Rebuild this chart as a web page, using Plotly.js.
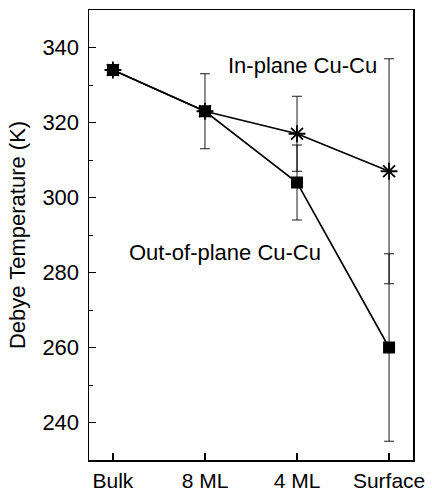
<!DOCTYPE html>
<html>
<head>
<meta charset="utf-8">
<script src="https://cdn.plot.ly/plotly-3.0.1.min.js"></script>
<style>html,body{margin:0;padding:0;background:#fff;}#chart{width:432px;height:497px;}</style>
</head>
<body>
<div id="chart"></div>
<script>
const categories = ['Bulk', '8 ML', '4 ML', 'Surface'];
const outOfPlane = [334, 323, 304, 260];
const outOfPlaneErr = [0, 10, 10, 25];
const inPlane = [334, 323, 317, 307];
const inPlaneErr = [0, 0, 10, 30];
const yTicks = [240, 260, 280, 300, 320, 340];

const xIdx = categories.map((c, i) => i);
const font = 'Liberation Sans, Arial, Helvetica, sans-serif';
const fs = 22;

const traces = [
  {
    x: xIdx, y: outOfPlane, type: 'scatter', mode: 'lines+markers',
    line: {color: '#000', width: 1.6},
    marker: {symbol: 'square', size: 12, color: '#000'},
    error_y: {type: 'data', array: outOfPlaneErr, visible: true, color: '#000', thickness: 0.9, width: 5},
    name: 'Out-of-plane Cu-Cu'
  },
  {
    x: xIdx, y: inPlane, type: 'scatter', mode: 'lines+markers',
    line: {color: '#000', width: 1.6},
    marker: {symbol: 'asterisk-open', size: 14, color: '#000', line: {color: '#000', width: 1.8}},
    error_y: {type: 'data', array: inPlaneErr, visible: true, color: '#000', thickness: 0.9, width: 5},
    name: 'In-plane Cu-Cu'
  }
];

const layout = {
  width: 432, height: 497,
  margin: {l: 89, r: 19, t: 10, b: 37},
  paper_bgcolor: '#fff', plot_bgcolor: '#fff',
  showlegend: false,
  font: {family: font, size: fs, color: '#000'},
  xaxis: {
    range: [-0.26, 3.26],
    tickvals: xIdx, ticktext: categories,
    ticks: 'inside', ticklen: 7, tickwidth: 1.2, tickcolor: '#000',
    showline: true, linecolor: '#000', linewidth: 1.5, mirror: true,
    showgrid: false, zeroline: false,
    ticklabelstandoff: 1,
    tickfont: {family: font, size: 21, color: '#000'}
  },
  yaxis: {
    range: [230, 350],
    tickvals: yTicks,
    ticks: 'inside', ticklen: 7, tickwidth: 1.2, tickcolor: '#000',
    minor: {dtick: 10, ticks: 'inside', ticklen: 4, tickcolor: '#000', tickwidth: 1},
    showline: true, linecolor: '#000', linewidth: 1.5, mirror: true,
    showgrid: false, zeroline: false,
    ticklabelstandoff: 4,
    tickfont: {family: font, size: fs, color: '#000'},
    title: {text: 'Debye Temperature (K)', font: {family: font, size: fs, color: '#000'}, standoff: 10}
  },
  annotations: [
    {x: 2.06, y: 335.2, xref: 'x', yref: 'y', text: 'In-plane Cu-Cu', showarrow: false,
     xanchor: 'center', yanchor: 'middle', font: {family: font, size: fs, color: '#000'}},
    {x: 1.22, y: 285.3, xref: 'x', yref: 'y', text: 'Out-of-plane Cu-Cu', showarrow: false,
     xanchor: 'center', yanchor: 'middle', font: {family: font, size: fs, color: '#000'}}
  ]
};

Plotly.newPlot('chart', traces, layout, {displayModeBar: false, staticPlot: true});
</script>
</body>
</html>
